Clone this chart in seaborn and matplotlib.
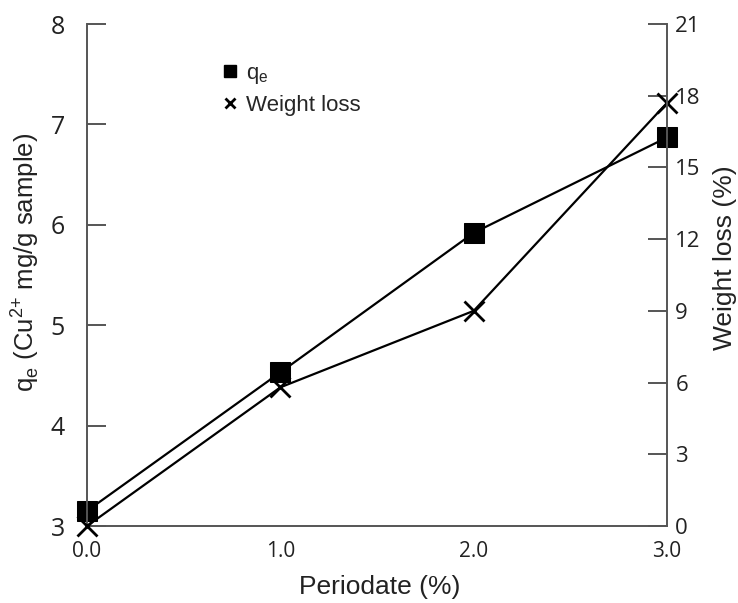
import matplotlib
matplotlib.use("Agg")
import matplotlib.pyplot as plt
from matplotlib.lines import Line2D
import seaborn as sns
import pandas as pd

# Periodate dose and the two measured responses
periodate = [0.0, 1.0, 2.0, 3.0]
qe_values = [3.15, 4.53, 5.92, 6.87]
weight_loss = [0.0, 5.8, 9.0, 17.7]

x_ticks = [0.0, 1.0, 2.0, 3.0]
x_tick_labels = ["0.0", "1.0", "2.0", "3.0"]
qe_ticks = [3, 4, 5, 6, 7, 8]
wl_ticks = [0, 3, 6, 9, 12, 15, 18, 21]

df = pd.DataFrame({"periodate": periodate, "qe": qe_values, "wl": weight_loss})

sns.set_theme(style="white")
plt.rcParams["font.family"] = ["Liberation Sans", "DejaVu Sans"]
plt.rcParams["mathtext.fontset"] = "custom"
plt.rcParams["mathtext.rm"] = "Liberation Sans"

spine_col = "#555555"
text_col = "#222222"
tick_font = ["Open Sans", "DejaVu Sans"]

fig = plt.figure(figsize=(7.38, 6.03), dpi=100)
ax = fig.add_axes([87 / 738, 77 / 603, (667 - 87) / 738, (526 - 24) / 603])
ax2 = ax.twinx()

sns.lineplot(data=df, x="periodate", y="qe", ax=ax, color="black", lw=1.6,
             marker="s", markersize=14, markeredgecolor="black", clip_on=False)
sns.lineplot(data=df, x="periodate", y="wl", ax=ax2, color="black", lw=1.6,
             marker="x", markersize=14, markeredgewidth=2.0,
             markeredgecolor="black", clip_on=False)

ax.set_xlim(0, 3)
ax.set_ylim(3, 8)
ax2.set_ylim(0, 21)

for a in (ax, ax2):
    a.spines["top"].set_visible(False)
    for s in a.spines.values():
        s.set_color(spine_col)
        s.set_linewidth(1.4)
ax.spines["right"].set_visible(False)
ax2.spines["left"].set_visible(False)
ax2.spines["bottom"].set_visible(False)

ax.set_xticks(x_ticks)
ax.set_xticklabels(x_tick_labels, fontfamily=tick_font)
ax.set_yticks(qe_ticks)
ax.set_yticklabels([str(t) for t in qe_ticks], fontfamily=tick_font)
ax2.set_yticks(wl_ticks)
ax2.set_yticklabels([str(t) for t in wl_ticks], fontfamily=tick_font)

ax.tick_params(axis="x", direction="in", length=12, width=1.4, color=spine_col,
               labelsize=15, pad=11, labelcolor=text_col)
ax.tick_params(axis="y", direction="in", length=14, width=1.4, color=spine_col,
               labelsize=18, pad=16, labelcolor=text_col, left=True)
ax2.tick_params(axis="y", direction="in", length=14, width=1.4, color=spine_col,
                labelsize=16, pad=6, labelcolor=text_col, right=True)

# hide the bottom ticks that coincide with the side spines
for t in ax.xaxis.get_major_ticks():
    if t.get_loc() in (0.0, 3.0):
        t.tick1line.set_visible(False)

ax.set_xlabel("Periodate (%)", fontsize=19, color=text_col)
ax.set_ylabel(r"q$_\mathregular{e}$ (Cu$^{\mathregular{2{+}}}$ mg/g sample)", fontsize=18.5,
              color=text_col)
ax2.set_ylabel("Weight loss (%)", fontsize=19, color=text_col)
ax.xaxis.set_label_coords(0.505, -0.097)
ax.yaxis.set_label_coords(-0.08, 0.525)
ax2.yaxis.set_label_coords(1.079, 0.535)

handles = [
    Line2D([], [], ls="none", marker="s", color="black", markersize=8),
    Line2D([], [], ls="none", marker="x", color="black", markersize=7, markeredgewidth=2),
]
ax2.legend(handles, [r"q$_\mathregular{e}$", "Weight loss"], frameon=False,
           loc="upper left", bbox_to_anchor=(0.198, 0.962), fontsize=16,
           handlelength=0.7, handletextpad=0.4, labelspacing=0.4)

fig.savefig("out.png", dpi=100, facecolor="white")
